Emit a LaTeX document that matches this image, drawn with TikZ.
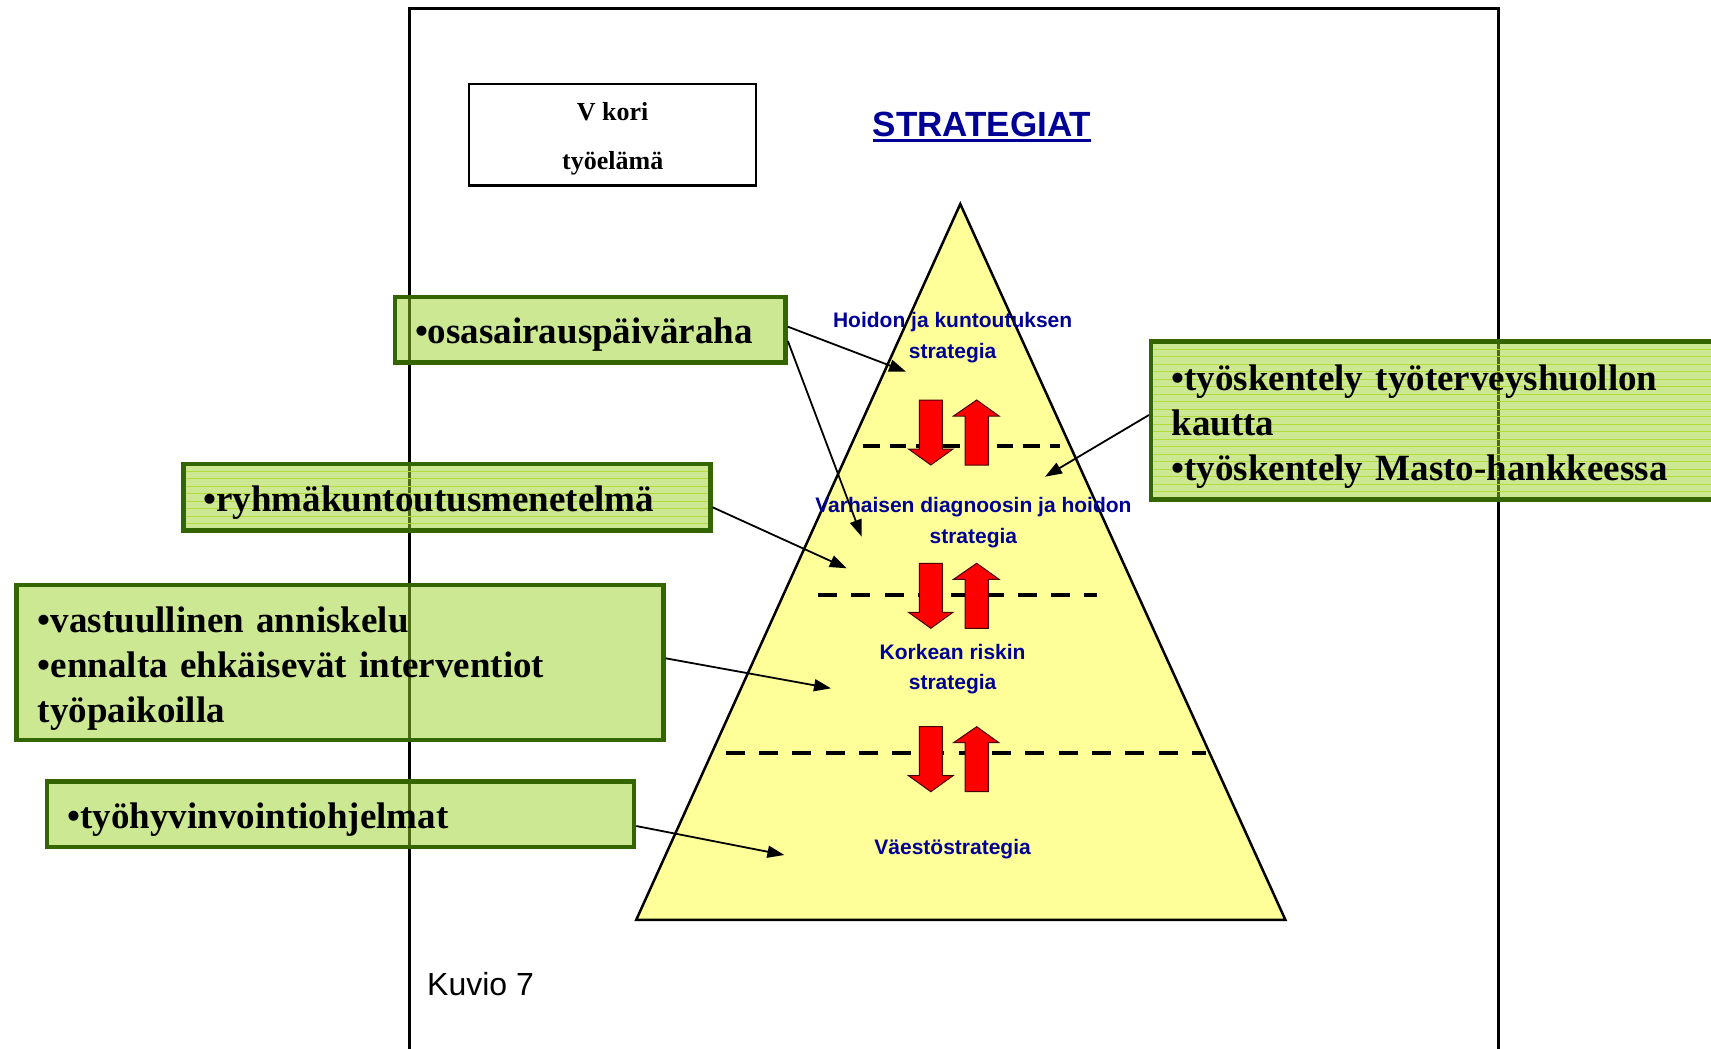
\documentclass[tikz,border=0pt]{standalone}
\usepackage{fontspec}
\setmainfont{Liberation Serif}
\setsansfont{Liberation Sans}
\usetikzlibrary{arrows.meta}
\definecolor{gborder}{RGB}{51,102,0}
\definecolor{gfill}{RGB}{155,210,40}
\definecolor{gstripe}{RGB}{180,218,60}
\definecolor{pyr}{RGB}{255,255,153}
\definecolor{lblue}{RGB}{0,0,150}
\definecolor{arrred}{RGB}{255,0,0}
\definecolor{arrline}{RGB}{70,0,0}
\newcommand\tallstrut[1]{\rule{0pt}{#1}}
\newcommand\redDown[1]{%
  \filldraw[redarr] (919.3,#1) -- (942.3,#1) -- (942.3,#1+49) -- (953,#1+49) -- (930.8,#1+65) -- (908.5,#1+49) -- (919.3,#1+49) -- cycle;}
\newcommand\redUp[1]{%
  \filldraw[redarr] (965,#1+65) -- (965,#1+16) -- (953.5,#1+16) -- (976.7,#1) -- (999,#1+16) -- (988.3,#1+16) -- (988.3,#1+65) -- cycle;}
\begin{document}
\begin{tikzpicture}[x=1pt,y=-1pt,
  gbox/.style={draw=gborder, line width=4.5pt, fill=gfill, fill opacity=0.5,
    draw opacity=1, text opacity=1, text=black, inner ysep=0pt, align=left,
    font=\bfseries\fontsize{37}{44.7}\selectfont},
  striped/.style={path picture={\foreach \k in {1,...,22}{\draw[gstripe, line width=0.9pt]
    ([yshift=-\k*7.5pt]path picture bounding box.north west) --
    ([yshift=-\k*7.5pt]path picture bounding box.north east);}}},
  lbl/.style={text=lblue, align=center, inner sep=0pt,
    font=\sffamily\bfseries\fontsize{21}{30.5}\selectfont},
  redarr/.style={fill=arrred, draw=arrline, line width=1pt},
  dashline/.style={line width=4pt, dash pattern=on 19pt off 14.3pt},
  conn/.style={line width=1.8pt, -{Triangle[length=17pt,width=12pt]}},
]
\useasboundingbox (0,0) rectangle (1711,1049);
% frame
\draw[line width=3.2pt] (409.2,1049) -- (409.2,8.7) -- (1498.2,8.7) -- (1498.2,1049);
% V kori box
\node[draw, line width=2.5pt, minimum width=287pt, minimum height=101.5pt, align=center,
  font=\bfseries\fontsize{26}{49}\selectfont] (vkori) at (612.7,134.8) {\tallstrut{26.5pt}V kori\\työelämä};
% title
\node[anchor=base, inner sep=0pt, text=lblue, font=\sffamily\bfseries\fontsize{35}{40}\selectfont]
  (title) at (982,136.4) {STRATEGIAT};
\draw[lblue, line width=3pt] ([yshift=-4.5pt]title.base west) -- ([yshift=-4.5pt]title.base east);
% pyramid
\filldraw[fill=pyr, draw=black, line width=2.5pt, line join=miter]
  (960.3,204) -- (1285.4,919.9) -- (636.2,919.9) -- cycle;
% dashed level lines
\draw[line width=3.6pt, dash pattern=on 16.7pt off 10pt] (863,445.7) -- (1060,445.7);
\draw[dashline] (818,595) -- (1097,595);
\draw[dashline] (725.6,753) -- (1205.8,753);
% red arrows
\redDown{400}\redUp{400}
\redDown{563.3}\redUp{563.3}
\redDown{726.7}\redUp{726.7}
% labels
\node[lbl] (l1) at (952.6,337.7) {Hoidon ja kuntoutuksen\\strategia};
\node[lbl] (l2) at (973.4,522.7) {Varhaisen diagnoosin ja hoidon\\strategia};
\node[lbl] (l3) at (952.6,668.9) {Korkean riskin\\strategia};
\node[lbl] (l4) at (952.6,849.3) {Väestöstrategia};
% green boxes
\node[gbox, inner xsep=20pt, text width=350.6pt, minimum height=65.5pt] (b1) at (590.3,329.6)
  {\tallstrut{36.5pt}•osasairauspäiväraha};
\node[gbox, striped, inner xsep=20pt, text width=487pt, minimum height=66.5pt] (b2) at (446.9,497)
  {\tallstrut{36.5pt}•ryhmäkuntoutusmenetelmä};
\node[gbox, inner xsep=21.5pt, text width=604pt, minimum height=154.9pt] (b3) at (339.9,662.4)
  {\tallstrut{38.5pt}•vastuullinen anniskelu\\•ennalta ehkäisevät interventiot\\työpaikoilla};
\node[gbox, inner xsep=20.5pt, text width=546pt, minimum height=65.5pt] (b4) at (340.5,814)
  {\tallstrut{36.5pt}•työhyvinvointiohjelmat};
\node[gbox, striped, inner xsep=20.5pt, text width=542.8pt, minimum height=157.8pt] (b5) at (1443.1,420.6)
  {\tallstrut{37.5pt}•työskentely työterveyshuollon\\kautta\\•työskentely Masto-hankkeessa};
% connector end points
\coordinate (t1) at (906,371.7);
\coordinate (t2) at (861.7,536.7);
\coordinate (t3) at (846.7,568.3);
\coordinate (t4) at (831,688.3);
\coordinate (t5) at (784.4,855);
\coordinate (t6) at (1045,476.7);
\draw[conn] ([yshift=2.9pt]b1.east) -- (t1);
\draw[conn] ([yshift=-11.4pt]b1.east) -- (t2);
\draw[conn] ([yshift=-10.3pt]b2.east) -- (t3);
\draw[conn] ([yshift=4.1pt]b3.east) -- (t4);
\draw[conn] ([yshift=-12pt]b4.east) -- (t5);
\draw[conn] ([yshift=5.6pt]b5.west) -- (t6);
% caption
\node[anchor=west, inner sep=0pt, font=\sffamily\fontsize{32}{36}\selectfont] (kuvio) at (427,984.3) {Kuvio 7};
\end{tikzpicture}
\end{document}
